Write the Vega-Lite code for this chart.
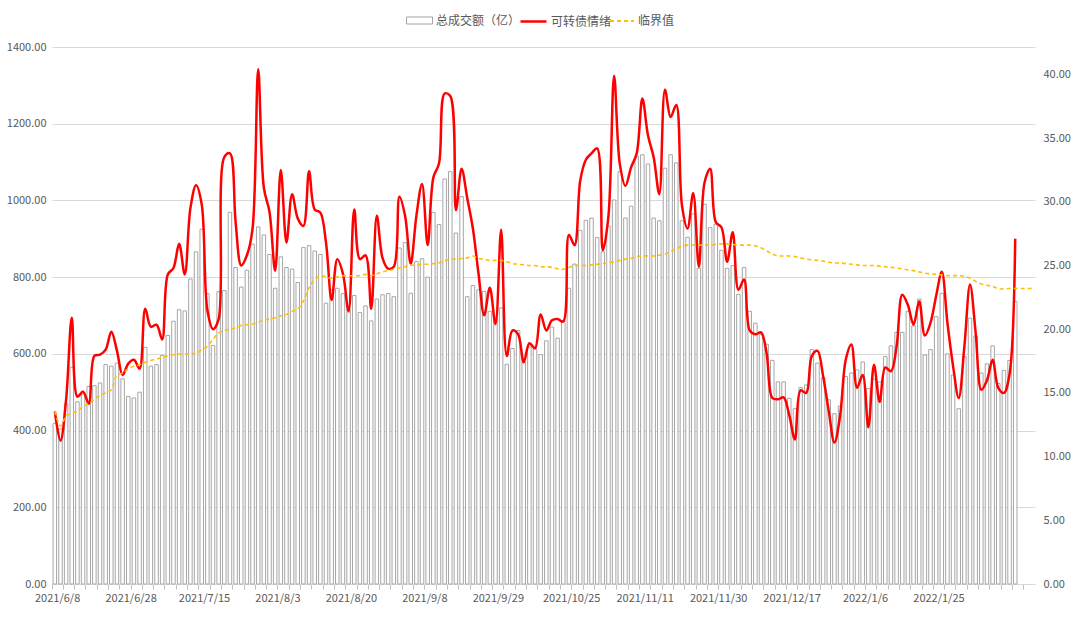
{
  "$schema": "https://vega.github.io/schema/vega-lite/v6.json",
  "width": 983,
  "height": 537,
  "autosize": {"type": "none"},
  "padding": {"left": 52, "top": 47, "right": 45, "bottom": 35},
  "background": "#ffffff",
  "config": {
    "view": {"stroke": null},
    "font": "Noto Sans CJK SC",
    "axis": {"labelFont": "Noto Sans CJK SC", "labelColor": "#595959", "labelFontSize": 11, "title": null},
    "legend": {"labelFont": "Noto Sans CJK SC", "labelFontSize": 12, "labelColor": "#595959", "padding": 0, "labelOffset": 3, "labelLimit": 300, "orient": "none", "direction": "horizontal"}
  },
  "data": {"values": [
    {"d":"2021/6/8","v":419,"s":13.55,"t":13.55},
    {"d":"2021/6/9","v":404,"s":11.25,"t":12.4},
    {"d":"2021/6/10","v":470,"s":14.5,"t":13.2},
    {"d":"2021/6/11","v":565,"s":20.9,"t":13.4},
    {"d":"2021/6/15","v":475,"s":14.7,"t":13.55},
    {"d":"2021/6/16","v":495,"s":15.1,"t":13.95},
    {"d":"2021/6/17","v":515,"s":14.15,"t":14.15},
    {"d":"2021/6/18","v":517,"s":17.9,"t":14.5},
    {"d":"2021/6/21","v":524,"s":18.0,"t":14.8},
    {"d":"2021/6/22","v":572,"s":18.4,"t":15.0},
    {"d":"2021/6/23","v":568,"s":19.8,"t":15.25},
    {"d":"2021/6/24","v":576,"s":18.3,"t":16.4},
    {"d":"2021/6/25","v":535,"s":16.4,"t":16.55},
    {"d":"2021/6/28","v":489,"s":17.3,"t":16.9},
    {"d":"2021/6/29","v":485,"s":17.6,"t":17.1},
    {"d":"2021/6/30","v":500,"s":16.9,"t":17.2},
    {"d":"2021/7/1","v":617,"s":21.6,"t":17.4},
    {"d":"2021/7/2","v":568,"s":20.2,"t":17.55},
    {"d":"2021/7/5","v":572,"s":20.35,"t":17.65},
    {"d":"2021/7/6","v":596,"s":19.2,"t":17.8},
    {"d":"2021/7/7","v":648,"s":24.3,"t":17.9},
    {"d":"2021/7/8","v":685,"s":24.8,"t":18.0},
    {"d":"2021/7/9","v":715,"s":26.7,"t":18.05},
    {"d":"2021/7/12","v":712,"s":24.3,"t":18.05},
    {"d":"2021/7/13","v":795,"s":29.5,"t":18.1},
    {"d":"2021/7/14","v":866,"s":31.3,"t":18.1},
    {"d":"2021/7/15","v":925,"s":29.8,"t":18.4},
    {"d":"2021/7/16","v":757,"s":21.5,"t":18.65},
    {"d":"2021/7/19","v":622,"s":20.0,"t":19.2},
    {"d":"2021/7/20","v":762,"s":20.8,"t":19.7},
    {"d":"2021/7/21","v":765,"s":33.5,"t":19.9},
    {"d":"2021/7/22","v":969,"s":33.8,"t":20.0},
    {"d":"2021/7/23","v":825,"s":28.4,"t":20.1},
    {"d":"2021/7/26","v":774,"s":25.0,"t":20.3},
    {"d":"2021/7/27","v":818,"s":25.8,"t":20.35},
    {"d":"2021/7/28","v":886,"s":27.9,"t":20.4},
    {"d":"2021/7/29","v":931,"s":40.4,"t":20.55},
    {"d":"2021/7/30","v":910,"s":31.1,"t":20.7},
    {"d":"2021/8/2","v":859,"s":29.2,"t":20.8},
    {"d":"2021/8/3","v":771,"s":24.6,"t":20.9},
    {"d":"2021/8/4","v":853,"s":32.5,"t":21.05},
    {"d":"2021/8/5","v":825,"s":26.8,"t":21.15},
    {"d":"2021/8/6","v":821,"s":30.6,"t":21.4},
    {"d":"2021/8/9","v":786,"s":28.7,"t":21.6},
    {"d":"2021/8/10","v":877,"s":28.1,"t":22.2},
    {"d":"2021/8/11","v":882,"s":32.4,"t":23.25},
    {"d":"2021/8/12","v":868,"s":29.4,"t":23.9},
    {"d":"2021/8/13","v":859,"s":29.15,"t":24.2},
    {"d":"2021/8/16","v":732,"s":26.8,"t":24.1},
    {"d":"2021/8/17","v":767,"s":22.3,"t":24.0},
    {"d":"2021/8/18","v":771,"s":25.5,"t":24.1},
    {"d":"2021/8/19","v":757,"s":24.35,"t":24.2},
    {"d":"2021/8/20","v":717,"s":21.4,"t":24.2},
    {"d":"2021/8/23","v":752,"s":29.4,"t":24.2},
    {"d":"2021/8/24","v":708,"s":25.5,"t":24.2},
    {"d":"2021/8/25","v":725,"s":25.8,"t":24.3},
    {"d":"2021/8/26","v":686,"s":21.6,"t":24.2},
    {"d":"2021/8/27","v":743,"s":28.9,"t":24.35},
    {"d":"2021/8/30","v":754,"s":25.6,"t":24.5},
    {"d":"2021/8/31","v":757,"s":24.75,"t":24.6},
    {"d":"2021/9/1","v":749,"s":24.9,"t":24.7},
    {"d":"2021/9/2","v":876,"s":30.4,"t":24.8},
    {"d":"2021/9/3","v":890,"s":28.9,"t":24.9},
    {"d":"2021/9/6","v":758,"s":25.15,"t":25.0},
    {"d":"2021/9/7","v":841,"s":28.9,"t":25.05},
    {"d":"2021/9/8","v":848,"s":31.4,"t":25.1},
    {"d":"2021/9/9","v":800,"s":26.6,"t":25.1},
    {"d":"2021/9/10","v":969,"s":31.9,"t":25.15},
    {"d":"2021/9/13","v":937,"s":33.0,"t":25.2},
    {"d":"2021/9/14","v":1056,"s":38.5,"t":25.35},
    {"d":"2021/9/15","v":1075,"s":38.3,"t":25.5},
    {"d":"2021/9/16","v":915,"s":29.35,"t":25.5},
    {"d":"2021/9/17","v":1010,"s":32.6,"t":25.55},
    {"d":"2021/9/22","v":749,"s":30.3,"t":25.6},
    {"d":"2021/9/23","v":778,"s":27.9,"t":25.75},
    {"d":"2021/9/24","v":767,"s":24.35,"t":25.55},
    {"d":"2021/9/27","v":763,"s":21.1,"t":25.5},
    {"d":"2021/9/28","v":711,"s":23.25,"t":25.4},
    {"d":"2021/9/29","v":695,"s":20.4,"t":25.4},
    {"d":"2021/9/30","v":720,"s":27.8,"t":25.4},
    {"d":"2021/10/8","v":573,"s":17.9,"t":25.3},
    {"d":"2021/10/11","v":614,"s":19.9,"t":25.15},
    {"d":"2021/10/12","v":661,"s":19.6,"t":25.1},
    {"d":"2021/10/13","v":580,"s":17.4,"t":25.05},
    {"d":"2021/10/14","v":618,"s":18.9,"t":25.0},
    {"d":"2021/10/15","v":614,"s":18.5,"t":25.0},
    {"d":"2021/10/18","v":598,"s":21.15,"t":24.9},
    {"d":"2021/10/19","v":634,"s":19.9,"t":24.9},
    {"d":"2021/10/20","v":670,"s":20.7,"t":24.85},
    {"d":"2021/10/21","v":641,"s":20.8,"t":24.75},
    {"d":"2021/10/22","v":686,"s":20.6,"t":24.7},
    {"d":"2021/10/25","v":771,"s":27.4,"t":24.85},
    {"d":"2021/10/26","v":834,"s":26.6,"t":25.0},
    {"d":"2021/10/27","v":922,"s":31.65,"t":25.0},
    {"d":"2021/10/28","v":948,"s":33.3,"t":25.0},
    {"d":"2021/10/29","v":954,"s":33.8,"t":25.05},
    {"d":"2021/11/1","v":903,"s":34.2,"t":25.1},
    {"d":"2021/11/2","v":866,"s":26.2,"t":25.15},
    {"d":"2021/11/3","v":933,"s":28.9,"t":25.2},
    {"d":"2021/11/4","v":1001,"s":39.9,"t":25.3},
    {"d":"2021/11/5","v":1075,"s":33.0,"t":25.4},
    {"d":"2021/11/8","v":954,"s":31.25,"t":25.5},
    {"d":"2021/11/9","v":985,"s":32.7,"t":25.55},
    {"d":"2021/11/10","v":1115,"s":33.8,"t":25.7},
    {"d":"2021/11/11","v":1119,"s":38.1,"t":25.75},
    {"d":"2021/11/12","v":1095,"s":35.2,"t":25.75},
    {"d":"2021/11/15","v":954,"s":33.5,"t":25.75},
    {"d":"2021/11/16","v":947,"s":30.6,"t":25.8},
    {"d":"2021/11/17","v":1084,"s":38.8,"t":25.9},
    {"d":"2021/11/18","v":1119,"s":36.65,"t":26.1},
    {"d":"2021/11/19","v":1098,"s":37.6,"t":26.3},
    {"d":"2021/11/22","v":947,"s":29.75,"t":26.5},
    {"d":"2021/11/23","v":904,"s":27.9,"t":26.6},
    {"d":"2021/11/24","v":965,"s":30.7,"t":26.6},
    {"d":"2021/11/25","v":823,"s":24.9,"t":26.6},
    {"d":"2021/11/26","v":990,"s":31.5,"t":26.6},
    {"d":"2021/11/29","v":929,"s":32.6,"t":26.6},
    {"d":"2021/11/30","v":938,"s":28.4,"t":26.65},
    {"d":"2021/12/1","v":870,"s":28.0,"t":26.7},
    {"d":"2021/12/2","v":823,"s":25.3,"t":26.7},
    {"d":"2021/12/3","v":830,"s":27.6,"t":26.65},
    {"d":"2021/12/6","v":755,"s":23.1,"t":26.6},
    {"d":"2021/12/7","v":825,"s":23.9,"t":26.6},
    {"d":"2021/12/8","v":711,"s":19.9,"t":26.6},
    {"d":"2021/12/9","v":680,"s":19.6,"t":26.55},
    {"d":"2021/12/10","v":650,"s":19.75,"t":26.4},
    {"d":"2021/12/13","v":625,"s":18.1,"t":26.15},
    {"d":"2021/12/14","v":583,"s":14.6,"t":25.9},
    {"d":"2021/12/15","v":527,"s":14.5,"t":25.75},
    {"d":"2021/12/16","v":527,"s":14.65,"t":25.75},
    {"d":"2021/12/17","v":484,"s":13.25,"t":25.75},
    {"d":"2021/12/20","v":457,"s":11.35,"t":25.7},
    {"d":"2021/12/21","v":512,"s":15.2,"t":25.6},
    {"d":"2021/12/22","v":519,"s":15.0,"t":25.5},
    {"d":"2021/12/23","v":611,"s":17.9,"t":25.45},
    {"d":"2021/12/24","v":576,"s":18.3,"t":25.4},
    {"d":"2021/12/27","v":538,"s":16.3,"t":25.35},
    {"d":"2021/12/28","v":480,"s":13.55,"t":25.25},
    {"d":"2021/12/29","v":444,"s":11.1,"t":25.2},
    {"d":"2021/12/30","v":464,"s":13.2,"t":25.2},
    {"d":"2021/12/31","v":541,"s":17.6,"t":25.15},
    {"d":"2022/1/4","v":550,"s":18.8,"t":25.1},
    {"d":"2022/1/5","v":558,"s":15.4,"t":25.05},
    {"d":"2022/1/6","v":579,"s":16.4,"t":25.0},
    {"d":"2022/1/7","v":510,"s":12.3,"t":25.0},
    {"d":"2022/1/10","v":534,"s":17.2,"t":25.0},
    {"d":"2022/1/11","v":527,"s":14.3,"t":24.95},
    {"d":"2022/1/12","v":593,"s":17.0,"t":24.9},
    {"d":"2022/1/13","v":621,"s":16.7,"t":24.85},
    {"d":"2022/1/14","v":656,"s":18.65,"t":24.8},
    {"d":"2022/1/17","v":656,"s":22.7,"t":24.75},
    {"d":"2022/1/18","v":711,"s":21.9,"t":24.65},
    {"d":"2022/1/19","v":673,"s":20.35,"t":24.6},
    {"d":"2022/1/20","v":743,"s":22.2,"t":24.5},
    {"d":"2022/1/21","v":597,"s":19.5,"t":24.4},
    {"d":"2022/1/24","v":611,"s":20.5,"t":24.35},
    {"d":"2022/1/25","v":697,"s":22.6,"t":24.3},
    {"d":"2022/1/26","v":758,"s":24.5,"t":24.25},
    {"d":"2022/1/27","v":600,"s":20.5,"t":24.2},
    {"d":"2022/1/28","v":545,"s":17.1,"t":24.2},
    {"d":"2022/2/7","v":457,"s":14.6,"t":24.2},
    {"d":"2022/2/8","v":593,"s":18.65,"t":24.15},
    {"d":"2022/2/9","v":693,"s":23.5,"t":24.0},
    {"d":"2022/2/10","v":647,"s":19.7,"t":23.75},
    {"d":"2022/2/11","v":550,"s":15.25,"t":23.55},
    {"d":"2022/2/14","v":574,"s":16.0,"t":23.45},
    {"d":"2022/2/15","v":621,"s":17.6,"t":23.35},
    {"d":"2022/2/16","v":523,"s":15.4,"t":23.2},
    {"d":"2022/2/17","v":557,"s":15.0,"t":23.15},
    {"d":"2022/2/18","v":583,"s":16.5,"t":23.2},
    {"d":"2022/2/21","v":737,"s":27.1,"t":23.2},
    {"d":"2022/2/22","v":null,"s":null,"t":23.2},
    {"d":"2022/2/23","v":null,"s":null,"t":23.2},
    {"d":"2022/2/24","v":null,"s":null,"t":23.2}
  ]},
  "resolve": {"scale": {"y": "independent"}},
  "layer": [
    {
      "mark": {"type": "bar", "stroke": "#a6a6a6", "strokeWidth": 1, "width": {"band": 0.62}},
      "encoding": {
        "x": {
          "field": "d", "type": "ordinal", "sort": null,
          "scale": {"paddingInner": 0, "paddingOuter": 0},
          "axis": {
            "title": null,
            "labelAngle": 0,
            "labelOverlap": false,
            "bandPosition": 0,
            "labelOffset": 2.82,
            "labelPadding": 3,
            "tickSize": 5,
            "tickColor": "#bfbfbf",
            "domainColor": "#d9d9d9",
            "grid": false,
            "tickOpacity": {"condition": {"test": "indexof(domain('x'), datum.value) % 2 == 0", "value": 1}, "value": 0},
            "labelExpr": "indexof(['2021/6/8','2021/6/28','2021/7/15','2021/8/3','2021/8/20','2021/9/8','2021/9/29','2021/10/25','2021/11/11','2021/11/30','2021/12/17','2022/1/6','2022/1/25'], datum.value) >= 0 ? datum.value : ''"
          }
        },
        "y": {
          "field": "v", "type": "quantitative",
          "scale": {"domain": [0, 1400], "nice": false},
          "axis": {
            "title": null, "orient": "left",
            "values": [0, 200, 400, 600, 800, 1000, 1200, 1400],
            "format": ".2f", "domain": false, "ticks": false,
            "gridColor": "#d9d9d9", "labelPadding": 6
          }
        },
        "fill": {
          "datum": "总成交额（亿）", "type": "nominal",
          "scale": {"domain": ["总成交额（亿）"], "range": ["#ffffff"]},
          "legend": {
            "title": null,
            "orient": "none",
            "legendX": 354,
            "legendY": -40,
            "symbolType": "M-1,-0.27H1V0.27H-1Z",
            "symbolSize": 676,
            "symbolStrokeColor": "#a6a6a6",
            "symbolStrokeWidth": 1
          }
        }
      }
    },
    {
      "layer": [
        {
          "mark": {"type": "line", "interpolate": "catmull-rom", "strokeWidth": 2.5},
          "encoding": {
            "x": {"field": "d", "type": "ordinal", "sort": null},
            "y": {
              "field": "s", "type": "quantitative",
              "scale": {"domain": [0, 42.15], "nice": false},
              "axis": {
                "title": null, "orient": "right",
                "values": [0, 5, 10, 15, 20, 25, 30, 35, 40],
                "format": ".2f", "domain": false, "ticks": false, "grid": false,
                "labelPadding": 8
              }
            },
            "stroke": {
              "datum": "可转债情绪", "type": "nominal",
              "scale": {"domain": ["可转债情绪"], "range": ["#ff0000"]},
              "legend": {
                "title": null,
                "orient": "none",
                "legendX": 467,
                "legendY": -40,
                "symbolType": "stroke",
                "symbolSize": 676,
                "symbolStrokeWidth": 2.5
              }
            }
          }
        },
        {
          "mark": {"type": "line", "interpolate": "catmull-rom", "stroke": "#ffc000", "strokeWidth": 1.6},
          "encoding": {
            "x": {"field": "d", "type": "ordinal", "sort": null},
            "y": {"field": "t", "type": "quantitative"},
            "strokeDash": {
              "datum": "临界值", "type": "nominal",
              "scale": {"domain": ["临界值"], "range": [[4, 3]]},
              "legend": {
                "title": null,
                "orient": "none",
                "legendX": 557,
                "legendY": -39,
                "symbolType": "stroke",
                "symbolSize": 576,
                "symbolStrokeColor": "#ffc000",
                "symbolStrokeWidth": 1.8
              }
            }
          }
        }
      ]
    }
  ]
}
